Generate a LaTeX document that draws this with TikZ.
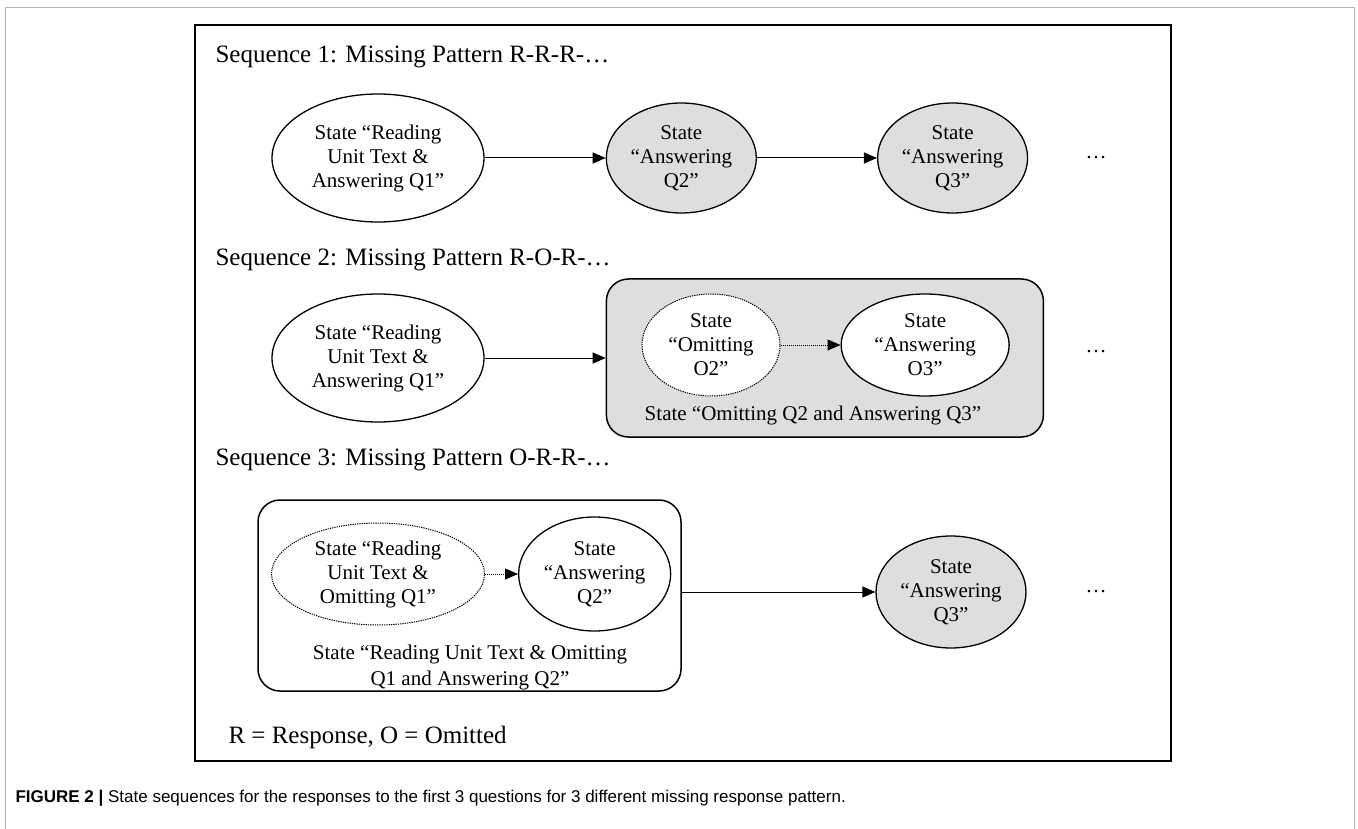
\documentclass[tikz,border=0pt]{standalone}
\usepackage{fontspec}
\setmainfont{Liberation Serif}
\newfontfamily\capfont{Liberation Sans}
\usetikzlibrary{arrows.meta,shapes.geometric,positioning}
\definecolor{stgray}{RGB}{222,222,222}

\begin{document}
\begin{tikzpicture}[x=1pt,y=-1pt,>={Triangle[length=13pt,width=11pt]},
 font=\fontsize{21}{24}\selectfont,
 st/.style={ellipse,draw,line width=1.3pt,align=center,inner sep=0pt},
 omit/.style={st,densely dotted,line width=1pt,fill=white},
 ans/.style={st,fill=stgray},
 grp/.style={rectangle,draw,rounded corners=22pt,line width=1.5pt},
 seqtitle/.style={anchor=west,font=\fontsize{25}{28}\selectfont},
 edge/.style={->,line width=1pt}]
\useasboundingbox (0,0) rectangle (1358,829);
\draw[gray!60,line width=1pt] (5,829) -- (5,8) -- (1354,8) -- (1354,829);
\draw[line width=2pt] (195,25) rectangle (1171,761);

% sequence 1
\node[seqtitle] (t1) at (212,57) {Sequence 1: Missing Pattern R-R-R-…};
\node[st,minimum width=212pt,minimum height=128pt] (r1a) at (378,158)
 {State “Reading\\Unit Text \&\\Answering Q1”};
\node[ans,minimum width=150pt,minimum height=110pt,right=121pt of r1a] (r1b)
 {State\\“Answering\\Q2”};
\node[ans,minimum width=150pt,minimum height=110pt,right=120pt of r1b] (r1c)
 {State\\“Answering\\Q3”};
\node (d1) at (1096,158) {…};
\draw[edge] (r1a) -- (r1b);
\draw[edge] (r1b) -- (r1c);

% sequence 2
\node[seqtitle] (t2) at (212,260) {Sequence 2: Missing Pattern R-O-R-…};
\node[st,minimum width=212pt,minimum height=128pt] (r2a) at (378,358)
 {State “Reading\\Unit Text \&\\Answering Q1”};
\node[grp,fill=stgray,minimum width=437pt,minimum height=158pt,right=121pt of r2a] (g2) {};
\node[omit,minimum width=138pt,minimum height=102pt] (r2b) at (711,345)
 {State\\“Omitting\\O2”};
\node[st,fill=white,minimum width=168pt,minimum height=102pt,right=60pt of r2b] (r2c)
 {State\\“Answering\\O3”};
\node (l2) at (813,415) {State “Omitting Q2 and Answering Q3”};
\node (d2) at (1096,352) {…};
\draw[edge] (r2a) -- (g2);
\draw[edge,densely dotted] (r2b) -- (r2c);

% sequence 3
\node[seqtitle] (t3) at (212,460) {Sequence 3: Missing Pattern O-R-R-…};
\node[grp,fill=white,minimum width=423pt,minimum height=191pt] (g3) at (469.5,595.5) {};
\node[omit,minimum width=213pt,minimum height=102pt] (r3a) at (378,574)
 {State “Reading\\Unit Text \&\\Omitting Q1”};
\node[st,minimum width=152pt,minimum height=114pt,right=33pt of r3a] (r3b)
 {State\\“Answering\\Q2”};
\node[align=center,font=\fontsize{21}{26}\selectfont] (l3) at (470,667)
 {State “Reading Unit Text \& Omitting\\Q1 and Answering Q2”};
\node[ans,minimum width=150pt,minimum height=112pt] (r3c) at (951,592)
 {State\\“Answering\\Q3”};
\node (d3) at (1096,592) {…};
\draw[edge,densely dotted] (r3a) -- (r3b);
\draw[edge] (r3c.west -| g3.east) -- (r3c);

\node[seqtitle] (key) at (225,737) {R = Response, O = Omitted};
\node[anchor=west,font=\capfont\fontsize{17}{20}\selectfont] (cap) at (12,798)
 {\textbf{FIGURE 2 |} State sequences for the responses to the first 3 questions for 3 different missing response pattern.};
\end{tikzpicture}
\end{document}
